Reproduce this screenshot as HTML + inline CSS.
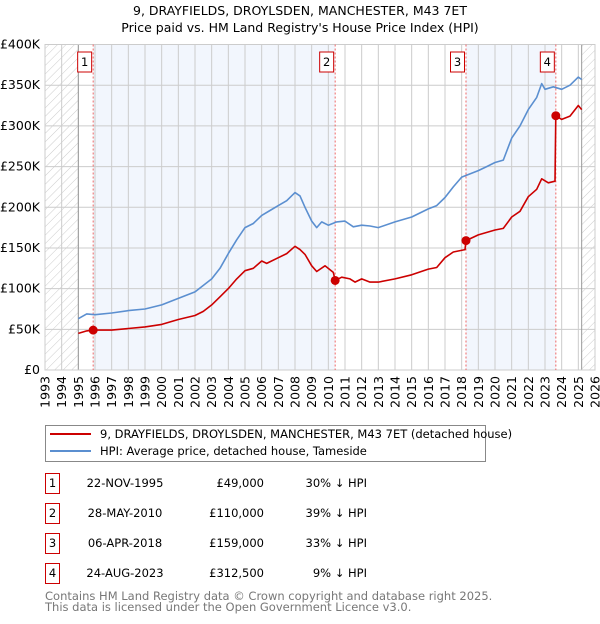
<!DOCTYPE html>
<html><head><meta charset="utf-8"><style>
body{margin:0;background:#fff;font-family:"DejaVu Sans","Liberation Sans",sans-serif;}
svg text{font-family:"DejaVu Sans","Liberation Sans",sans-serif;}
</style></head><body>
<svg id="c" width="600" height="620" xmlns="http://www.w3.org/2000/svg">
<defs><pattern id="hatch" width="6" height="6" patternUnits="userSpaceOnUse" patternTransform="rotate(45)"><line x1="0" y1="0" x2="0" y2="6" stroke="#ccc" stroke-width="1"/></pattern></defs>
<text x="300" y="15" text-anchor="middle" font-size="12.5">9, DRAYFIELDS, DROYLSDEN, MANCHESTER, M43 7ET</text>
<text x="300" y="32" text-anchor="middle" font-size="12.5">Price paid vs. HM Land Registry's House Price Index (HPI)</text>
<g id="plot"></g>
<g>
<rect x="45.5" y="425.5" width="440" height="36" fill="#fff" stroke="#888"/>
<line x1="50" y1="434" x2="91" y2="434" stroke="#cc0000" stroke-width="2"/>
<text x="100" y="438" font-size="11.5">9, DRAYFIELDS, DROYLSDEN, MANCHESTER, M43 7ET (detached house)</text>
<line x1="50" y1="451" x2="91" y2="451" stroke="#5b8fd0" stroke-width="2"/>
<text x="100" y="455" font-size="11.5">HPI: Average price, detached house, Tameside</text>
</g>
<g id="table" font-size="11.5"></g>
<text x="45" y="600" font-size="11.5" fill="#777">Contains HM Land Registry data © Crown copyright and database right 2025.</text>
<text x="45" y="611" font-size="11.5" fill="#777">This data is licensed under the Open Government Licence v3.0.</text>
</svg>
<script>
const yearTicks=[1993,1994,1995,1996,1997,1998,1999,2000,2001,2002,2003,2004,2005,2006,2007,2008,2009,2010,2011,2012,2013,2014,2015,2016,2017,2018,2019,2020,2021,2022,2023,2024,2025,2026];
const valueTicks=[0,50000,100000,150000,200000,250000,300000,350000,400000];
const valueTickLabels=["£0","£50K","£100K","£150K","£200K","£250K","£300K","£350K","£400K"];
const hpiYears=[1995.0,1995.5,1996,1997,1998,1999,2000,2001,2002,2003,2003.5,2004,2004.5,2005,2005.5,2006,2006.5,2007,2007.5,2008,2008.3,2008.6,2009,2009.3,2009.6,2010,2010.5,2011,2011.5,2012,2012.5,2013,2014,2015,2016,2016.5,2017,2017.5,2018,2019,2019.5,2020,2020.5,2021,2021.5,2022,2022.5,2022.8,2023,2023.5,2024,2024.5,2025,2025.2];
const hpiValues=[63000,69000,68000,70000,73000,75000,80000,88000,96000,112000,125000,143000,160000,175000,180000,190000,196000,202000,208000,218000,214000,200000,183000,175000,182000,178000,182000,183000,176000,178000,177000,175000,182000,188000,198000,202000,212000,225000,237000,245000,250000,255000,258000,285000,300000,320000,335000,352000,345000,348000,345000,350000,360000,357000];
const priceYears=[1995.0,1995.5,1995.9,1997,1998,1999,2000,2001,2002,2002.5,2003,2003.5,2004,2004.5,2005,2005.5,2006,2006.3,2007,2007.5,2008,2008.3,2008.6,2009,2009.3,2009.8,2010.3,2010.41,2010.8,2011.3,2011.6,2012,2012.5,2013,2014,2015,2016,2016.5,2017,2017.5,2018.2,2018.26,2019,2020,2020.5,2021,2021.5,2022,2022.5,2022.8,2023.2,2023.6,2023.65,2024,2024.5,2025,2025.2];
const priceValues=[45000,48000,49000,49000,51000,53000,56000,62000,67000,72000,80000,90000,100000,112000,122000,125000,134000,131000,138000,143000,152000,148000,142000,128000,121000,128000,120000,110000,114000,112000,108000,112000,108000,108000,112000,117000,124000,126000,138000,145000,148000,159000,166000,172000,174000,188000,195000,213000,222000,235000,230000,232000,312500,308000,312000,325000,320000];
const saleLabels=["1","2","3","4"];
const saleYears=[1995.89,2010.41,2018.26,2023.65];
const salePrices=[49000,110000,159000,312500];
const saleDates=["22-NOV-1995","28-MAY-2010","06-APR-2018","24-AUG-2023"];
const salePriceText=["£49,000","£110,000","£159,000","£312,500"];
const saleHpiText=["30% ↓ HPI","39% ↓ HPI","33% ↓ HPI","9% ↓ HPI"];

const X0=45,X1=595,Y0=370,Y1=44.5;
const xs=y=>X0+(y-1993)/(2026-1993)*(X1-X0);
const ys=v=>Y0-v/400000*(Y0-Y1);
const NS="http://www.w3.org/2000/svg";
const plot=document.getElementById('plot');
function mk(tag,attrs,parent){const e=document.createElementNS(NS,tag);for(const k in attrs)e.setAttribute(k,attrs[k]);(parent||plot).appendChild(e);return e;}
// backgrounds
mk('rect',{x:X0,y:Y1,width:X1-X0,height:Y0-Y1,fill:'#fff'});
const bandEdges=[1995,saleYears[0],saleYears[1],saleYears[2],saleYears[3],2025.2];
for(let i=0;i<bandEdges.length-1;i++){
 const r=mk('rect',{x:xs(bandEdges[i]),y:Y1,width:xs(bandEdges[i+1])-xs(bandEdges[i]),height:Y0-Y1,fill:i%2?'#f2f6fd':'#fff'});
 
 
}
let h=mk('rect',{x:X0,y:Y1,width:xs(1995)-X0,height:Y0-Y1,fill:'url(#hatch)'});


h=mk('rect',{x:xs(2025.2),y:Y1,width:X1-xs(2025.2),height:Y0-Y1,fill:'url(#hatch)'});


// grid
valueTicks.forEach((v,i)=>{
 mk('line',{x1:X0,x2:X1,y1:ys(v),y2:ys(v),stroke:'#ccc','stroke-width':1});
 const t=mk('text',{x:X0-5,y:ys(v)+4,'text-anchor':'end','font-size':12.5});
 t.textContent=valueTickLabels[i];
 
 
});
yearTicks.forEach(y=>{
 mk('line',{x1:xs(y),x2:xs(y),y1:Y1,y2:Y0,stroke:'#ccc','stroke-width':1});
 const t=mk('text',{x:0,y:0,'text-anchor':'end','font-size':12.5,transform:`translate(${xs(y)+4.5},${Y0+6}) rotate(-90)`});
 t.textContent=y;
 
 
});
mk('line',{x1:xs(1995),x2:xs(1995),y1:Y1,y2:Y0,stroke:'#999','stroke-width':1});
mk('line',{x1:xs(2025.2),x2:xs(2025.2),y1:Y1,y2:Y0,stroke:'#999','stroke-width':1});
mk('rect',{x:X0,y:Y1,width:X1-X0,height:Y0-Y1,fill:'none',stroke:'#ccc'});
// sale markers lines
saleYears.forEach((y,i)=>{
 mk('line',{x1:xs(y),x2:xs(y),y1:Y1,y2:Y0,stroke:'#e66','stroke-width':1,'stroke-dasharray':'2,2'});
 const g=mk('g',{});
 
 
 mk('rect',{x:xs(y)-15.5,y:52,width:14,height:20,fill:'#fff',stroke:'#cc0000'},g);
 const t=mk('text',{x:xs(y)-8.5,y:66,'text-anchor':'middle','font-size':11.5},g);
 t.textContent=saleLabels[i];
});
function pts(xa,va){return xa.map((x,i)=>xs(x).toFixed(1)+','+ys(va[i]).toFixed(1)).join(' ');}
let l=mk('polyline',{points:pts(hpiYears,hpiValues),fill:'none',stroke:'#5b8fd0','stroke-width':1.6,'stroke-linejoin':'round'});


l=mk('polyline',{points:pts(priceYears,priceValues),fill:'none',stroke:'#cc0000','stroke-width':1.6,'stroke-linejoin':'round'});


saleYears.forEach((y,i)=>{
 const c=mk('circle',{cx:xs(y),cy:ys(salePrices[i]),r:4.5,fill:'#cc0000'});
 
 
});
// table
const tb=document.getElementById('table');
saleLabels.forEach((s,i)=>{
 const cy=483+i*30;
 const g=mk('g',{},tb);
 
 
 mk('rect',{x:45.5,y:cy-9.5,width:14,height:20,fill:'#fff',stroke:'#cc0000'},g);
 let t=mk('text',{x:52.5,y:cy+4,'text-anchor':'middle'},g);t.textContent=s;
 t=mk('text',{x:125,y:cy+4,'text-anchor':'middle'},g);t.textContent=saleDates[i];
 t=mk('text',{x:264,y:cy+4,'text-anchor':'end'},g);t.textContent=salePriceText[i];
 t=mk('text',{x:367,y:cy+4,'text-anchor':'end'},g);t.textContent=saleHpiText[i];
});
</script>
</body></html>
